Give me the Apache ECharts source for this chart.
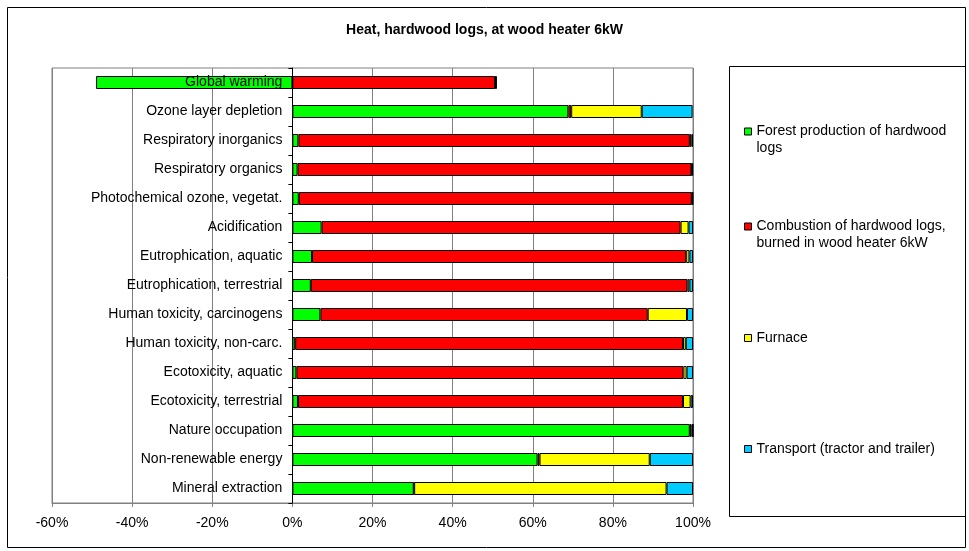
<!DOCTYPE html>
<html>
<head>
<meta charset="utf-8">
<script src="https://cdn.jsdelivr.net/npm/echarts@6/dist/echarts.min.js"></script>
<style>html,body{margin:0;padding:0;background:#fff;}#c{width:969px;height:551px;}</style>
</head>
<body>
<div id="c"></div>
<script>
var categories = ['Global warming','Ozone layer depletion','Respiratory inorganics','Respiratory organics','Photochemical ozone, vegetat.','Acidification','Eutrophication, aquatic','Eutrophication, terrestrial','Human toxicity, carcinogens','Human toxicity, non-carc.','Ecotoxicity, aquatic','Ecotoxicity, terrestrial','Nature occupation','Non-renewable energy','Mineral extraction'];
var forest     = [-49, 68.9, 1.5, 1.3, 1.6, 7.3, 4.9, 4.6, 7.0, 0.7, 1.0, 1.4, 99.2, 61.2, 30.3];
var combustion = [50.6, 0.7, 97.7, 98.3, 98.1, 89.6, 93.4, 94.0, 81.7, 96.8, 96.6, 96.1, 0.4, 0.5, 0.1];
var furnace    = [0.2, 17.6, 0.4, 0.2, 0.2, 2.0, 0.8, 0.5, 9.8, 0.7, 0.8, 1.9, 0.4, 27.5, 63.0];
var transport  = [0.2, 12.7, 0.4, 0.2, 0.1, 1.1, 0.9, 0.9, 1.5, 1.8, 1.6, 0.6, 0.0, 10.8, 6.6];
var seriesNames = ['Forest production of hardwood logs','Combustion of hardwood logs, burned in wood heater 6kW','Furnace','Transport (tractor and trailer)'];
var seriesLabels = ['Forest production of hardwood\nlogs','Combustion of hardwood logs,\nburned in wood heater 6kW','Furnace','Transport (tractor and trailer)'];
var xTicks = {min: -60, max: 100, interval: 20};

var colors = ['#00FF00','#FF0000','#FFFF00','#00CCFF'];
var values = [forest, combustion, furnace, transport];
var FONT = 'Liberation Sans, Arial, sans-serif';

var chart = echarts.init(document.getElementById('c'), null, {renderer: 'canvas'});

var series = seriesNames.map(function (n, i) {
  return {
    name: n, type: 'bar', stack: 'total', data: values[i],
    barWidth: 13,
    itemStyle: {color: colors[i], borderColor: '#000', borderWidth: 1},
    emphasis: {disabled: true},
    animation: false
  };
});

// one legend per entry, positioned individually; marker aligned with first text line
var legendFirstLineY = [131, 226, 337, 448];
var legends = seriesNames.map(function (n, i) {
  var twoLine = seriesLabels[i].indexOf('\n') >= 0;
  return {
    data: [n], orient: 'vertical', left: 744,
    top: twoLine ? legendFirstLineY[i] - 8 : legendFirstLineY[i] - 7.5,
    padding: 0,
    itemWidth: 7, itemHeight: twoLine ? 24 : 7, itemGap: 0,
    icon: twoLine ? 'path://M0,0L7,0L7,7L0,7Z M0,24L0,24' : 'rect',
    selectedMode: false,
    formatter: function () { return seriesLabels[i]; },
    textStyle: {fontFamily: FONT, fontSize: 14, color: '#000', lineHeight: 17},
    itemStyle: {borderColor: '#000', borderWidth: 1}
  };
});

var gridLeft = 52, gridRight = 276, plotRightX = 969 - gridRight;
// label anchor just left of the 0% axis
var zeroX = gridLeft + (0 - xTicks.min) / (xTicks.max - xTicks.min) * (plotRightX - gridLeft);

chart.setOption({
  animation: false,
  backgroundColor: '#fff',
  title: {
    text: 'Heat, hardwood logs, at wood heater 6kW',
    left: 'center', top: 23, padding: 0,
    textStyle: {fontFamily: FONT, fontSize: 14, fontWeight: 'bold', color: '#000'}
  },
  graphic: [
    {type: 'rect', shape: {x: 7.5, y: 7.5, width: 958, height: 540}, style: {fill: null, stroke: '#000', lineWidth: 1}, silent: true, z: -10},
    {type: 'rect', shape: {x: 729.5, y: 66.5, width: 236, height: 450}, style: {fill: null, stroke: '#000', lineWidth: 1}, silent: true, z: -10}
  ],
  legend: legends,
  grid: {left: gridLeft, top: 68, right: gridRight, bottom: 48, show: true, borderColor: '#808080', borderWidth: 1, containLabel: false, outerBoundsMode: 'none'},
  xAxis: {
    type: 'value', min: xTicks.min, max: xTicks.max, interval: xTicks.interval,
    axisLine: {show: true, lineStyle: {color: '#808080', width: 1}},
    axisTick: {show: true, length: 4, inside: false, lineStyle: {color: '#808080'}},
    axisLabel: {fontFamily: FONT, fontSize: 14, color: '#000', margin: 13, formatter: function (v) { return v + '%'; }},
    splitLine: {show: true, lineStyle: {color: '#808080', width: 1}}
  },
  yAxis: {
    type: 'category', data: categories, inverse: true, z: 5,
    axisLine: {show: true, onZero: true, lineStyle: {color: '#000', width: 1}},
    axisTick: {show: true, length: 4, lineStyle: {color: '#000'}},
    axisLabel: {fontFamily: FONT, fontSize: 14, color: '#000', margin: -(zeroX - gridLeft - 10), align: 'right'},
    splitLine: {show: false}
  },
  series: series
});
</script>
</body>
</html>
